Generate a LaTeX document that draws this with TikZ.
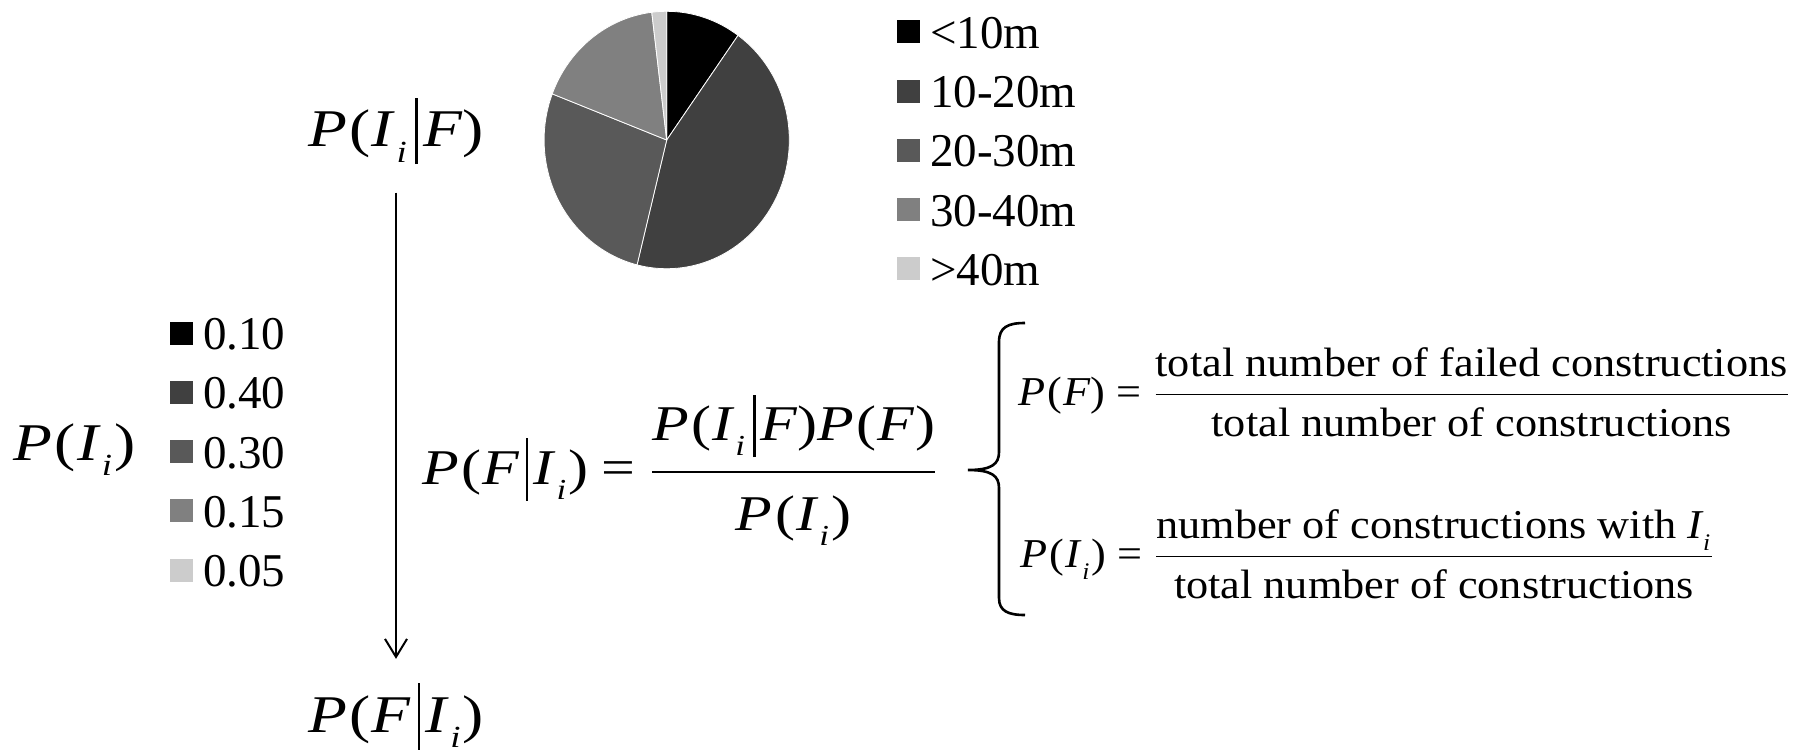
\documentclass[tikz,border=0pt]{standalone}
\usepackage{amsmath,graphicx,xcolor,tikz}
\usepackage{fontspec}
\setmainfont{Liberation Serif}
\newfontfamily\wideserif[FakeStretch=1.08]{Liberation Serif}
\newfontfamily\broadserif[FakeStretch=1.2]{Liberation Serif}
\usetikzlibrary{arrows.meta,positioning}
\definecolor{slA}{HTML}{000000}
\definecolor{slB}{HTML}{404040}
\definecolor{slC}{HTML}{595959}
\definecolor{slD}{HTML}{808080}
\definecolor{slE}{HTML}{CCCCCC}
\newcommand{\subi}{\raisebox{-0.3em}{\scalebox{0.58}{\textit{i}}}}
\newcommand{\Ii}{\textit{I}\kern0.02em\subi\kern0.04em}
\newcommand{\given}{\kern0.12em\rule[-0.33em]{0.05em}{1.25em}\kern0.1em}
\newcommand{\prob}[1]{\mbox{\textit{P}\kern0.05em(\kern0.02em#1)}}
\newcommand{\eqsign}{\mathrel{\mbox{=}}}
\tikzset{
swatch/.style={fill,minimum size=11.5pt,inner sep=0pt,outer sep=0pt},
keytext/.style={font=\fontsize{23.5}{28}\selectfont,inner sep=0pt,outer sep=0pt,text height=16.4pt,text depth=0pt},
probtext/.style={font=\broadserif\fontsize{26.5}{32}\selectfont,inner sep=0pt},
bigeq/.style={font=\broadserif\fontsize{25}{30}\selectfont,inner sep=0pt},
sideeq/.style={font=\wideserif\fontsize{20.5}{25}\selectfont,inner sep=0pt},
flow/.style={-{Straight Barb[length=9pt,width=11pt]},line width=1pt},
slice/.style={draw=white,line width=0.4pt},
brace/.style={line width=1.3pt}
}
\begin{document}
\begin{tikzpicture}[x=0.5pt,y=-0.5pt,node distance=18.15pt]
\useasboundingbox (0,0) rectangle (1816,751);
% pie of the distances
\begin{scope}[shift={(666.7,140)},yscale=-1]
\foreach \a/\b/\c in {90/54.4/slA,54.4/-104/slB,256/159/slC,159/97/slD,97/90/slE}
  \filldraw[slice,fill=\c] (0,0) -- (\a:122.6 and 128.7) arc[start angle=\a,end angle=\b,x radius=122.6,y radius=128.7] -- cycle;
\end{scope}
% legend of the pie
\node[swatch,fill=slA] (ka) at (908.5,31.7) {};
\node[swatch,fill=slB,below=of ka] (kb) {};
\node[swatch,fill=slC,below=of kb] (kc) {};
\node[swatch,fill=slD,below=of kc] (kd) {};
\node[swatch,fill=slE,below=of kd] (ke) {};
\node[keytext,right=5pt of ka] (ta) {<10m};
\node[keytext,right=5pt of kb] (tb) {10-20m};
\node[keytext,right=5pt of kc] (tc) {20-30m};
\node[keytext,right=5pt of kd] (td) {30-40m};
\node[keytext,right=5pt of ke] (te) {>40m};
% legend of P(I_i)
\node[swatch,fill=slA] (qa) at (181.7,333) {};
\node[swatch,fill=slB,below=of qa] (qb) {};
\node[swatch,fill=slC,below=of qb] (qc) {};
\node[swatch,fill=slD,below=of qc] (qd) {};
\node[swatch,fill=slE,below=of qd] (qe) {};
\node[keytext,right=5pt of qa] (va) {0.10};
\node[keytext,right=5pt of qb] (vb) {0.40};
\node[keytext,right=5pt of qc] (vc) {0.30};
\node[keytext,right=5pt of qd] (vd) {0.15};
\node[keytext,right=5pt of qe] (ve) {0.05};
% probabilities
\node[probtext,anchor=base west] (pi) at (13,460) {\prob{\Ii}};
\node[probtext,anchor=base] (pif) at (396,146.7) {\prob{\Ii\given\textit{F}}};
\node[probtext,anchor=base] (pfi) at (396,732) {\prob{\textit{F}\given\Ii}};
\draw[flow,shorten <=14pt,shorten >=12pt] (pif.south) -- (pfi.north);
% Bayes rule
\node[bigeq,anchor=base west] (bayes) at (422,484) {$\prob{\textit{F}\given\Ii}\eqsign\dfrac{\prob{\Ii\given\textit{F}}\prob{\textit{F}}\rule[-0.48em]{0pt}{0.48em}}{\rule{0pt}{1.04em}\prob{\Ii}}$};
\draw[brace] (1025,323) .. controls (1008,323) and (999,327) .. (999,342) -- (999,452)
  .. controls (999,464) and (992,470) .. (968,470) .. controls (992,470) and (999,476) .. (999,488)
  -- (999,598) .. controls (999,611) and (1008,615) .. (1025,615);
\node[sideeq,anchor=base west] (pfeq) at (1018,405) {$\prob{\textit{F}}\eqsign\dfrac{\text{total number of failed constructions}}{\rule{0pt}{0.88em}\text{total number of constructions}}$};
\node[sideeq,anchor=base west] (pieq) at (1020,567) {$\prob{\Ii}\eqsign\dfrac{\text{number of constructions with }\Ii}{\rule{0pt}{0.88em}\text{total number of constructions}}$};
\end{tikzpicture}
\end{document}
